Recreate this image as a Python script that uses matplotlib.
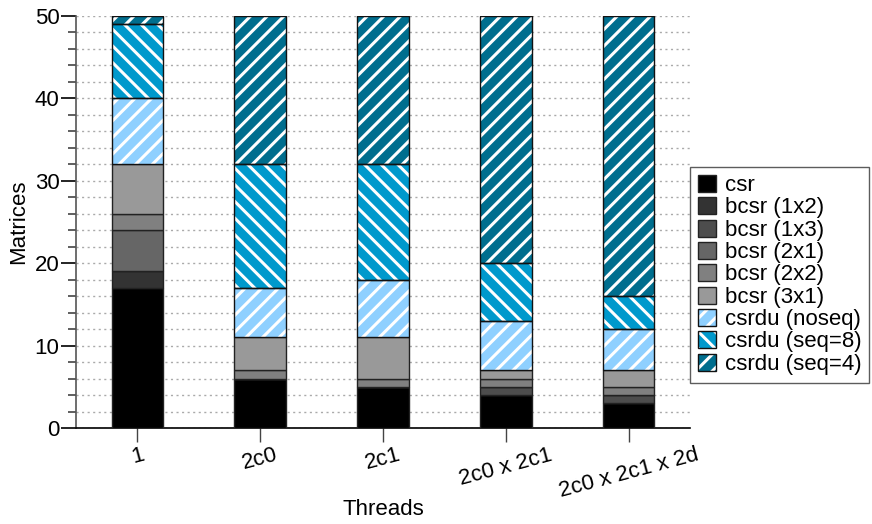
import matplotlib
matplotlib.use("Agg")
import matplotlib.pyplot as plt
import numpy as np
from matplotlib.patches import Patch
from matplotlib.legend_handler import HandlerTuple

plt.rcParams['font.family'] = ['Liberation Sans', 'DejaVu Sans']
plt.rcParams['hatch.linewidth'] = 2.2

threads = ["1", "2c0", "2c1", "2c0 x 2c1", "2c0 x 2c1 x 2d"]
formats = ["csr", "bcsr (1x2)", "bcsr (1x3)", "bcsr (2x1)", "bcsr (2x2)", "bcsr (3x1)",
           "csrdu (noseq)", "csrdu (seq=8)", "csrdu (seq=4)"]

csr       = [17, 6, 5, 4, 3]
bcsr_1x2  = [2, 0, 0, 0, 0]
bcsr_1x3  = [0, 0, 0, 1, 1]
bcsr_2x1  = [5, 0, 0, 0, 0]
bcsr_2x2  = [2, 1, 1, 1, 1]
bcsr_3x1  = [6, 4, 5, 1, 2]
csrdu_noseq = [8, 6, 7, 6, 5]
csrdu_seq8  = [9, 15, 14, 7, 4]
csrdu_seq4  = [1, 18, 18, 30, 34]

series = [csr, bcsr_1x2, bcsr_1x3, bcsr_2x1, bcsr_2x2, bcsr_3x1,
          csrdu_noseq, csrdu_seq8, csrdu_seq4]
colors = ["#000000", "#333333", "#4d4d4d", "#666666", "#808080", "#999999",
          "#8fd0ff", "#0099cc", "#006e8e"]
hatches = [None, None, None, None, None, None, "//", "\\\\", "//"]

fig = plt.figure(figsize=(8.72, 5.24), dpi=100)
ax = fig.add_axes([0.0872, 0.1832, 0.7041, 0.7863])

x = np.arange(len(threads))
width = 0.42
bottom = np.zeros(len(threads))
handles = []
for vals, col, h, lab in zip(series, colors, hatches, formats):
    vals = np.array(vals, dtype=float)
    if h is None:
        ax.bar(x, vals, width, bottom=bottom, color=col, edgecolor="#222222",
               linewidth=1.0, zorder=3)
        handles.append(Patch(facecolor=col, edgecolor="#222222", linewidth=1.0))
    else:
        ax.bar(x, vals, width, bottom=bottom, color=col, edgecolor="white",
               linewidth=0, hatch=h, zorder=3)
        ax.bar(x, vals, width, bottom=bottom, fill=False, edgecolor="#111111",
               linewidth=1.0, zorder=4)
        handles.append((Patch(facecolor=col, edgecolor="white", linewidth=0, hatch=h),
                        Patch(fill=False, edgecolor="#111111", linewidth=1.0)))
    bottom += vals

ax.set_xlim(-0.5, 4.5)
ax.set_ylim(0, 50)
ax.set_yticks(np.arange(0, 51, 10))
ax.set_yticks(np.arange(0, 51, 2), minor=True)
ax.yaxis.grid(True, which="both", linestyle=(0, (1.5, 2.5)), color="#aaaaaa",
              linewidth=1.0, zorder=0)
ax.set_axisbelow(True)
ax.set_xticks(x)
ax.set_xticklabels(threads, rotation=15, ha="center", fontsize=16)
ax.tick_params(axis="y", which="major", length=11, width=1.2, labelsize=16,
               direction="out", pad=1)
ax.tick_params(axis="y", which="minor", length=6, width=1.2, color="#444444",
               direction="out")
ax.tick_params(axis="x", which="major", length=10, width=1.0, color="#444444",
               direction="out", pad=2)
for s in ["top", "right"]:
    ax.spines[s].set_visible(False)
ax.spines["left"].set_color("#555555")
ax.spines["left"].set_linewidth(1.2)
ax.spines["bottom"].set_linewidth(1.2)

ax.set_xlabel("Threads", fontsize=16)
ax.xaxis.set_label_coords(0.5, -0.172)
ax.set_ylabel("Matrices", fontsize=16, labelpad=4)

leg = fig.legend(handles, formats, loc="upper left",
                 bbox_to_anchor=(0.7915, 0.681), bbox_transform=fig.transFigure,
                 borderaxespad=0, fontsize=16, labelspacing=0.05,
                 handlelength=0.8, handleheight=0.8, handletextpad=0.4,
                 borderpad=0.35, fancybox=False, frameon=True,
                 handler_map={tuple: HandlerTuple(ndivide=1, pad=0)})
leg.get_frame().set_edgecolor("#333333")
leg.get_frame().set_linewidth(1.0)

fig.savefig("out.png", dpi=100)
